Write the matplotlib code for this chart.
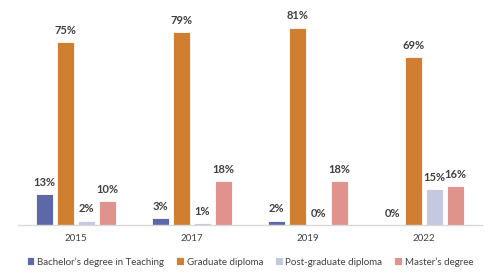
import matplotlib
matplotlib.use("Agg")
import matplotlib.pyplot as plt
import numpy as np

plt.rcParams['font.family'] = ['Lato', 'DejaVu Sans']

years = ["2015", "2017", "2019", "2022"]
series_names = ["Bachelor’s degree in Teaching", "Graduate diploma",
                "Post-graduate diploma", "Master’s degree"]
bachelor = [13, 3, 2, 0]
graduate = [75, 79, 81, 69]
postgrad = [2, 1, 0, 15]
master = [10, 18, 18, 16]
colors = ["#5C68A9", "#D07F31", "#C5C9E0", "#E0928C"]

fig = plt.figure(figsize=(5, 2.8), dpi=100)
ax = fig.add_axes([0.036, 0.195, 0.928, 0.785])

x = np.arange(len(years))
width = 0.145
step = 0.181
all_series = [bachelor, graduate, postgrad, master]
for i, (vals, name, c) in enumerate(zip(all_series, series_names, colors)):
    pos = x + (i - 1.5) * step
    bars = ax.bar(pos, vals, width=width, color=c, edgecolor="white", linewidth=0.6, label=name)
    for p, v in zip(pos, vals):
        ax.text(p, v + 2.5, f"{v}%", ha="center", va="bottom", fontsize=8,
                fontweight="bold", color="#404040")

ax.set_xlim(-0.5, len(years) - 0.5)
ax.set_ylim(0, 90)
ax.set_yticks([])
ax.set_xticks(x)
ax.set_xticklabels(years, fontsize=7, color="#404040")
ax.tick_params(axis="x", length=0, pad=6)
for s in ["top", "right", "left"]:
    ax.spines[s].set_visible(False)
ax.spines["bottom"].set_color("#D9D9D9")
ax.spines["bottom"].set_linewidth(1.0)

fig.legend(loc="center", bbox_to_anchor=(0.5, 0.065), ncol=4, frameon=False,
           fontsize=7, handlelength=0.8, handleheight=0.8, handletextpad=0.3,
           columnspacing=1.2, labelcolor="#404040")

fig.savefig("out.png", dpi=100)
